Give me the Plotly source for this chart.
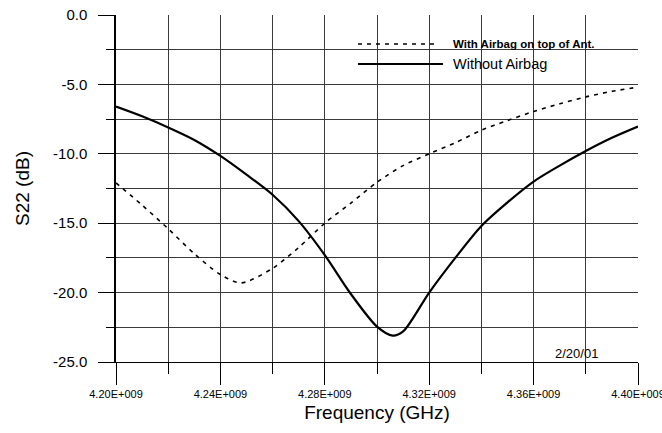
import plotly.graph_objects as go

# ---- data (frequency in Hz, S22 in dB) ----
freq_without_ghz = [4.20, 4.21, 4.22, 4.23, 4.24, 4.25, 4.26, 4.27, 4.28, 4.29, 4.30,
                    4.306, 4.31, 4.32, 4.33, 4.34, 4.35, 4.36, 4.37, 4.38, 4.39, 4.40]
s22_without = [-6.6, -7.3, -8.1, -9.0, -10.15, -11.5, -12.95, -14.85, -17.3, -20.1, -22.45,
               -23.1, -22.8, -20.0, -17.5, -15.2, -13.5, -12.0, -10.85, -9.8, -8.85, -8.04]

freq_with_ghz = [4.20, 4.21, 4.22, 4.23, 4.24, 4.248, 4.26, 4.27, 4.28, 4.29, 4.30,
                 4.31, 4.32, 4.33, 4.34, 4.35, 4.36, 4.37, 4.38, 4.39, 4.40]
s22_with = [-12.1, -13.7, -15.4, -17.2, -18.7, -19.3, -18.25, -16.75, -15.0, -13.55, -12.05,
            -10.85, -10.0, -9.2, -8.3, -7.6, -6.95, -6.4, -5.9, -5.5, -5.2]

x_tick_vals_ghz = [4.20, 4.24, 4.28, 4.32, 4.36, 4.40]
x_tick_text = ["4.20E+009", "4.24E+009", "4.28E+009", "4.32E+009", "4.36E+009", "4.40E+009"]
y_tick_vals = [0, -5, -10, -15, -20, -25]
y_tick_text = ["0.0", "-5.0", "-10.0", "-15.0", "-20.0", "-25.0"]

name_with = "With Airbag on top of Ant."
name_without = "Without Airbag"
date_note = "2/20/01"

GHZ = 1e9
FONT = "Liberation Sans, Arial, sans-serif"
GRID = "#3a3a3a"

fig = go.Figure()
fig.add_trace(go.Scatter(
    x=[f * GHZ for f in freq_with_ghz], y=s22_with, mode="lines", name=name_with,
    line=dict(color="black", width=1.6, dash="4px,5px", shape="spline", smoothing=0.8),
    showlegend=False))
fig.add_trace(go.Scatter(
    x=[f * GHZ for f in freq_without_ghz], y=s22_without, mode="lines", name=name_without,
    line=dict(color="black", width=2.2, shape="spline", smoothing=0.8),
    showlegend=False))

fig.update_layout(
    width=662, height=433,
    margin=dict(l=116, r=24, t=15, b=71),
    paper_bgcolor="white", plot_bgcolor="white",
    font=dict(family=FONT, color="black"),
    showlegend=False,
)

fig.update_xaxes(
    range=[4.20 * GHZ, 4.40 * GHZ],
    automargin=False,
    tickmode="array", tickvals=[v * GHZ for v in x_tick_vals_ghz], ticktext=x_tick_text,
    tickfont=dict(size=11, family=FONT, color="black"),
    ticklabeloverflow="allow",
    ticks="outside", ticklen=22, tickcolor="black", tickwidth=1,
    showgrid=True, gridcolor=GRID, gridwidth=1,
    minor=dict(tickmode="linear", tick0=4.20 * GHZ, dtick=0.02 * GHZ, ticks="outside",
               ticklen=11, tickcolor="black", showgrid=True, gridcolor=GRID, gridwidth=1),
    showline=True, linecolor="black", linewidth=1, mirror=False,
    zeroline=False,
    title=dict(text="Frequency (GHz)", font=dict(size=19, family=FONT, color="black"), standoff=6),
)
fig.update_yaxes(
    range=[-25, 0],
    automargin=False,
    tickmode="array", tickvals=y_tick_vals, ticktext=y_tick_text,
    tickfont=dict(size=15, family=FONT, color="black"),
    ticks="outside", ticklen=16, tickcolor="black", tickwidth=1,
    ticklabelstandoff=8,
    showgrid=True, gridcolor=GRID, gridwidth=1,
    minor=dict(tickmode="linear", tick0=0, dtick=2.5, ticks="outside",
               ticklen=8, tickcolor="black", showgrid=True, gridcolor=GRID, gridwidth=1),
    showline=True, linecolor="black", linewidth=1.5,
    zeroline=False,
    title=dict(text="S22 (dB)", font=dict(size=19, family=FONT, color="black"), standoff=18),
)

# legend drawn without a box, as in the original
leg_x0, leg_x1d, leg_x1s, leg_tx = 0.4636, 0.6169, 0.6264, 0.6418
leg_y1, leg_y2 = 0.9164, 0.8588
fig.add_shape(type="line", xref="paper", yref="paper", x0=leg_x0, x1=leg_x1d, y0=leg_y1, y1=leg_y1,
              line=dict(color="black", width=1.6, dash="4px,5px"))
fig.add_shape(type="line", xref="paper", yref="paper", x0=leg_x0, x1=leg_x1s, y0=leg_y2, y1=leg_y2,
              line=dict(color="black", width=2))
fig.add_annotation(xref="paper", yref="paper", x=leg_tx, y=leg_y1, text="<b>" + name_with + "</b>",
                   showarrow=False, xanchor="left", yanchor="middle",
                   font=dict(size=11.5, family=FONT, color="black"))
fig.add_annotation(xref="paper", yref="paper", x=leg_tx, y=leg_y2, text=name_without,
                   showarrow=False, xanchor="left", yanchor="middle",
                   font=dict(size=14.5, family=FONT, color="black"))
fig.add_annotation(x=4.3765 * GHZ, y=-24.4, text=date_note, showarrow=False,
                   xanchor="center", yanchor="middle",
                   font=dict(size=13, family=FONT, color="black"))

fig.write_html("out.html")
